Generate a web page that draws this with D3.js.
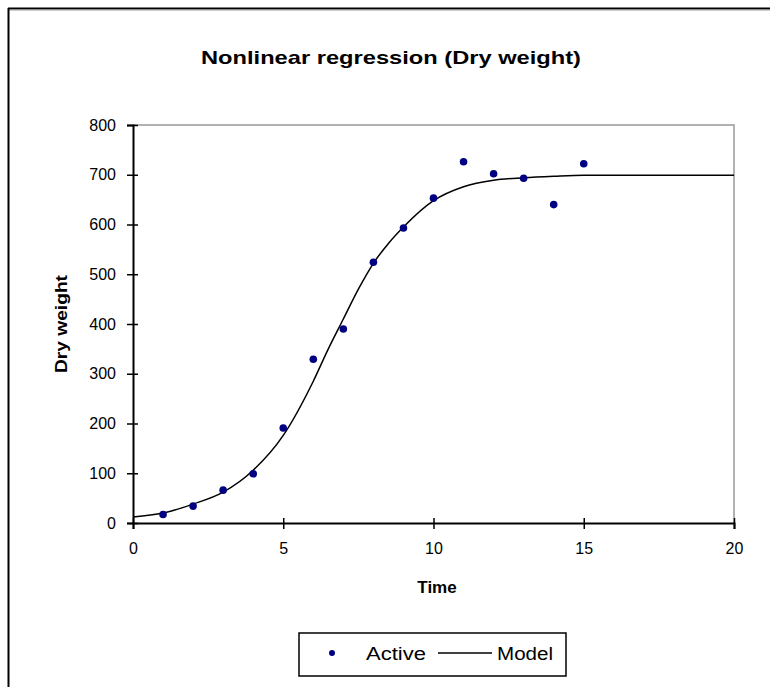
<!DOCTYPE html>
<meta charset="utf-8">
<head>
	<title>Nonlinear regression (Dry weight)</title>
	<style>
		body { margin: 0; background: #fff; }
		svg { display: block; font-family: Arial, "Liberation Sans", sans-serif; }
		.tickText { font-size: 16px; fill: #000; }
		.axisTitle { font-size: 17px; font-weight: bold; fill: #000; }
		.legendText { font-size: 18px; fill: #000; }
	</style>
	<script src="https://d3js.org/d3.v7.min.js"></script>
</head>
<body>
	<div id="chart"></div>
	<script>
		// observed points (Active)
		const timeValues = [1, 2, 3, 4, 5, 6, 7, 8, 9, 10, 11, 12, 13, 14, 15];
		const dryWeight = [17, 34, 66, 99, 191, 329, 390, 524, 593, 653, 726, 702, 693, 640, 722];

		// fitted model
		const modelTime = [0, 1, 2, 3, 4, 5, 6, 6.5, 7, 7.5, 8, 8.5, 9, 10, 11, 12, 13, 14, 15, 20];
		const modelWeight = [12, 20, 38, 62, 106, 176, 285, 350, 410, 470, 522, 562, 595, 648, 676, 689, 694, 697, 699, 699];

		const xTicks = [0, 5, 10, 15, 20];
		const yTicks = [0, 100, 200, 300, 400, 500, 600, 700, 800];

		const W = 770, H = 687;
		const plot = {left: 133, right: 734, top: 125, bottom: 523};

		const svg = d3.select('#chart').append('svg').attr('width', W).attr('height', H);
		svg.append('rect').attr('width', W).attr('height', H).attr('fill', '#fff');

		// outer frame (only left and top edges are visible)
		svg.append('line').attr('x1', 8).attr('y1', 8.5).attr('x2', W).attr('y2', 8.5).attr('stroke', '#000').attr('stroke-width', 2);
		svg.append('line').attr('x1', 8).attr('y1', 10).attr('x2', W).attr('y2', 10).attr('stroke', '#999').attr('stroke-width', 1);
		svg.append('line').attr('x1', 8.5).attr('y1', 8).attr('x2', 8.5).attr('y2', H).attr('stroke', '#000').attr('stroke-width', 2);

		const x = d3.scaleLinear().domain([0, 20]).range([plot.left, plot.right]);
		const y = d3.scaleLinear().domain([0, 800]).range([plot.bottom, plot.top]);

		// plot area top/right edges
		svg.append('path')
			.attr('d', `M${plot.left},${plot.top}H${plot.right}V${plot.bottom}`)
			.attr('fill', 'none').attr('stroke', '#999').attr('stroke-width', 1.5);

		// title
		svg.append('text').attr('x', 391).attr('y', 64).attr('text-anchor', 'middle')
			.attr('class', 'axisTitle').style('font-size', '19px')
			.attr('textLength', 380).attr('lengthAdjust', 'spacingAndGlyphs')
			.text('Nonlinear regression (Dry weight)');

		// axes
		const xAxis = d3.axisBottom(x).tickValues(xTicks).tickSize(6).tickPadding(14).tickFormat(d3.format('d'));
		const yAxis = d3.axisLeft(y).tickValues(yTicks).tickSize(6).tickPadding(11).tickFormat(d3.format('d'));

		const gx = svg.append('g').attr('transform', `translate(0,${plot.bottom})`).call(xAxis);
		const gy = svg.append('g').attr('transform', `translate(${plot.left},0)`).call(yAxis);

		[gx, gy].forEach(g => {
			g.select('.domain').attr('stroke', '#000').attr('stroke-width', 2);
			g.selectAll('.tick line').attr('stroke', '#000').attr('stroke-width', 1.5);
			g.selectAll('.tick text').attr('class', 'tickText').attr('font-family', null).attr('font-size', null);
		});
		// ticks cross the axis lines
		gx.selectAll('.tick line').attr('y1', -5).attr('y2', 6);
		gy.selectAll('.tick line').attr('x1', 5).attr('x2', -6);

		svg.append('text').attr('class', 'axisTitle').attr('x', 437).attr('y', 593)
			.attr('text-anchor', 'middle').text('Time');
		svg.append('text').attr('class', 'axisTitle')
			.attr('transform', `translate(67,${(plot.top + plot.bottom) / 2}) rotate(-90)`)
			.attr('text-anchor', 'middle')
			.attr('textLength', 98).attr('lengthAdjust', 'spacingAndGlyphs')
			.text('Dry weight');

		// model curve
		const line = d3.line().x(d => x(d[0])).y(d => y(d[1])).curve(d3.curveMonotoneX);
		svg.append('path').datum(d3.zip(modelTime, modelWeight))
			.attr('d', line).attr('fill', 'none').attr('stroke', '#000').attr('stroke-width', 1.5);

		// data points
		svg.append('g').selectAll('circle').data(d3.zip(timeValues, dryWeight)).join('circle')
			.attr('cx', d => x(d[0])).attr('cy', d => y(d[1])).attr('r', 3.8).attr('fill', '#000080');

		// legend
		const lg = svg.append('g');
		lg.append('rect').attr('x', 299).attr('y', 633).attr('width', 267).attr('height', 43)
			.attr('fill', '#fff').attr('stroke', '#000').attr('stroke-width', 1.5);
		lg.append('circle').attr('cx', 332).attr('cy', 653).attr('r', 3).attr('fill', '#000080');
		lg.append('text').attr('class', 'legendText').attr('x', 366).attr('y', 660)
			.attr('textLength', 60).attr('lengthAdjust', 'spacingAndGlyphs').text('Active');
		lg.append('line').attr('x1', 438).attr('x2', 492).attr('y1', 653).attr('y2', 653)
			.attr('stroke', '#000').attr('stroke-width', 1.5);
		lg.append('text').attr('class', 'legendText').attr('x', 497).attr('y', 660)
			.attr('textLength', 56).attr('lengthAdjust', 'spacingAndGlyphs').text('Model');
	</script>
</body>
